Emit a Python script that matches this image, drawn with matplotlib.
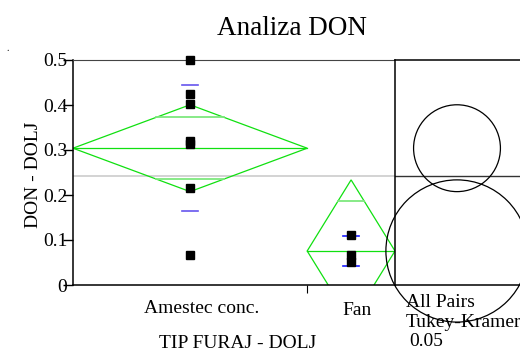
import numpy as np
import matplotlib.pyplot as plt
from matplotlib.patches import Circle, Polygon

plt.rcParams['font.family'] = 'Liberation Serif'

groups = ['Amestec conc.', 'Fan']
group_n = [8, 3]
amestec_vals = [0.500, 0.424, 0.402, 0.321, 0.313, 0.216, 0.067]
fan_vals = [0.111, 0.067, 0.051]
group_means = [0.304, 0.0756]
ci_half = [0.0965, 0.158]
std_dev = [0.140, 0.033]
grand_mean = 0.243
yticks = [0, 0.1, 0.2, 0.3, 0.4, 0.5]
ytick_labels = ['0', '0.1', '0.2', '0.3', '0.4', '0.5']

W, H = 520, 352
fig = plt.figure(figsize=(W / 100, H / 100), dpi=100)

# main oneway panel (pixel box 73..395 x 60..285)
ax = fig.add_axes([73 / W, (H - 285) / H, 322 / W, 225 / H])
edges = np.concatenate([[0], np.cumsum(group_n)])
ax.set_xlim(0, edges[-1])
ax.set_ylim(0, 0.5)

green = '#10e010'
light_green = '#7ee87e'
ax.axhline(grand_mean, color='#cccccc', lw=1.2, zorder=1)

for i, vals in enumerate([amestec_vals, fan_vals]):
    x0, x1 = edges[i], edges[i + 1]
    c = (x0 + x1) / 2
    w = x1 - x0
    m, h = group_means[i], ci_half[i]
    diamond = Polygon([[x0, m], [c, m + h], [x1, m], [c, m - h]], closed=True,
                      fill=False, edgecolor=green, lw=0.9, zorder=2)
    ax.add_patch(diamond)
    ax.plot([x0, x1], [m, m], color=green, lw=0.9, zorder=2)
    # overlap marks
    d = h / np.sqrt(2)
    hw = (w / 2) * (1 - d / h)
    for yy in (m + d, m - d):
        ax.plot([c - hw, c + hw], [yy, yy], color=light_green, lw=1.3, zorder=2)
    # std dev lines
    sd_col = '#6655ee' if i == 0 else '#1a1aff'
    for yy in (m + std_dev[i], m - std_dev[i]):
        ax.plot([c - 0.27, c + 0.27], [yy, yy], color=sd_col, lw=1.2, zorder=3)
    ax.plot([c] * len(vals), vals, 's', color='black', ms=5.8, zorder=4,
            clip_on=False)

ax.set_yticks(yticks)
ax.set_yticklabels(ytick_labels, fontsize=14)
ax.tick_params(axis='y', direction='out', length=7, width=1, pad=-3)
ax.set_xticks([edges[1]])
ax.set_xticklabels([''])
ax.tick_params(axis='x', direction='out', length=6, width=0.8)
for s in ['left', 'bottom']:
    ax.spines[s].set_linewidth(1.1)
ax.spines['top'].set_color('#444444')
ax.spines['right'].set_visible(False)

label_shift = [0.4, 0.2]
label_y = [-0.124, -0.133]
for i, g in enumerate(groups):
    c = (edges[i] + edges[i + 1]) / 2 + label_shift[i]
    ax.text(c, label_y[i], g, fontsize=14, ha='center', va='baseline',
            transform=ax.get_xaxis_transform())

ax.set_ylabel('DON - DOLJ', fontsize=14)
ax.yaxis.set_label_coords(-0.124, 0.489)
ax.yaxis.label.set_verticalalignment('center')
ax.text(0.511, -0.262, 'TIP FURAJ - DOLJ', fontsize=14, ha='center', va='center',
        transform=ax.transAxes)

# comparison circles panel
px_per_unit = 225 / 0.5
rx0, rx1 = 395, 580
ax2 = fig.add_axes([rx0 / W, (H - 285) / H, (rx1 - rx0) / W, 225 / H])
ax2.set_ylim(0, 0.5)
ax2.set_xlim(0, (rx1 - rx0) / px_per_unit)
ax2.set_xticks([])
ax2.set_yticks([])
ax2.axhline(grand_mean, color='#333333', lw=1.0)
cx = (457 - rx0) / px_per_unit
for i in range(len(groups)):
    ax2.add_patch(Circle((cx, group_means[i]), ci_half[i], fill=False,
                         edgecolor='black', lw=0.9, clip_on=False, zorder=3))
for s in ax2.spines.values():
    s.set_linewidth(1.1)
ax2.spines['right'].set_visible(False)

fig.text(406 / W, (H - 307) / H, 'All Pairs', fontsize=14, va='baseline')
fig.text(406 / W, (H - 327) / H, 'Tukey-Kramer', fontsize=14, va='baseline')
fig.text(409 / W, (H - 346) / H, '0.05', fontsize=14, va='baseline')

fig.text(291.5 / W, (H - 35) / H, 'Analiza DON', fontsize=19.5, ha='center', va='baseline')
fig.text(6 / W, (H - 51) / H, '.', fontsize=7)

fig.savefig('out.png', dpi=100)
